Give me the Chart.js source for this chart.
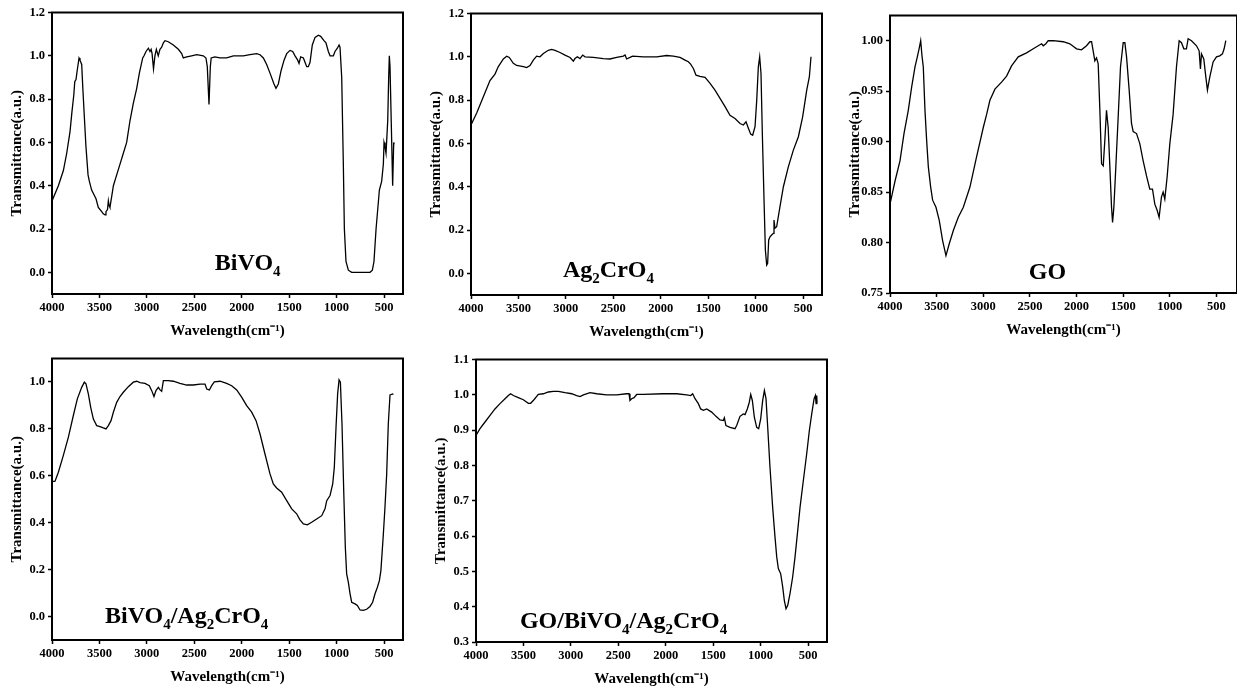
<!DOCTYPE html>
<html>
<head>
<meta charset="utf-8">
<script src="https://cdn.jsdelivr.net/npm/chart.js@4.4.1/dist/chart.umd.min.js"></script>
<style>
  body { margin: 0; background: #fff; width: 1237px; height: 693px; overflow: hidden; position: relative; }
  canvas { position: absolute; }
</style>
</head>
<body>
<script>
// FTIR spectra: wavenumber (cm-1) and transmittance (a.u.)
const bivo4Wave = [
  4000, 3933, 3880, 3845, 3810, 3790, 3770, 3760, 3747, 3735,
  3715, 3705, 3687, 3675, 3663, 3642, 3620, 3606, 3582, 3536,
  3512, 3476, 3459, 3441, 3431, 3415, 3406, 3399, 3389, 3371,
  3353, 3318, 3283, 3248, 3213, 3178, 3143, 3107, 3079, 3044,
  3030, 3009, 2984, 2967, 2955, 2945, 2930, 2915, 2900, 2880,
  2862, 2844, 2826, 2809, 2774, 2721, 2668, 2633, 2616, 2580,
  2528, 2475, 2405, 2377, 2363, 2345, 2331, 2322, 2283, 2229,
  2159, 2088, 1983, 1913, 1842, 1807, 1772, 1737, 1702, 1660,
  1639, 1614, 1586, 1554, 1526, 1491, 1463, 1438, 1410, 1396,
  1379, 1350, 1333, 1315, 1298, 1280, 1256, 1227, 1192, 1168,
  1133, 1112, 1087, 1069, 1034, 1017, 992, 974, 964, 946,
  929, 918, 901, 876, 841, 648, 623, 606, 584, 549,
  525, 507, 500, 490, 479, 461, 451, 444, 437, 419,
  409, 398, 395
];
const bivo4T = [
  0.33, 0.40, 0.47, 0.55, 0.65, 0.74, 0.82, 0.88, 0.89, 0.93,
  0.99, 0.98, 0.96, 0.85, 0.75, 0.58, 0.45, 0.42, 0.38, 0.34,
  0.30, 0.28, 0.27, 0.265, 0.28, 0.29, 0.33, 0.31, 0.30, 0.35,
  0.40, 0.45, 0.50, 0.55, 0.60, 0.70, 0.78, 0.85, 0.92, 0.99,
  1.00, 1.02, 1.035, 1.02, 1.03, 1.01, 0.94, 1.00, 1.03, 1.00,
  1.03, 1.04, 1.06, 1.07, 1.065, 1.05, 1.03, 1.01, 0.99, 0.995,
  1.00, 1.005, 1.00, 0.99, 0.95, 0.775, 0.95, 0.99, 0.995, 0.99,
  0.99, 1.00, 1.00, 1.005, 1.01, 1.005, 0.99, 0.96, 0.92, 0.87,
  0.85, 0.87, 0.93, 0.98, 1.01, 1.025, 1.02, 1.00, 0.98, 0.965,
  0.995, 0.99, 0.97, 0.95, 0.95, 0.97, 1.05, 1.085, 1.095, 1.09,
  1.07, 1.06, 1.02, 1.00, 1.00, 1.02, 1.035, 1.05, 1.04, 0.90,
  0.50, 0.20, 0.05, 0.01, 0.00, 0.00, 0.01, 0.05, 0.20, 0.38,
  0.42, 0.50, 0.60, 0.58, 0.55, 0.70, 0.90, 1.00, 0.95, 0.60,
  0.40, 0.60, 0.59
];

const ag2cro4Wave = [
  4000, 3940, 3870, 3800, 3747, 3712, 3659, 3624, 3596, 3554,
  3519, 3448, 3413, 3378, 3343, 3308, 3273, 3237, 3185, 3150,
  3114, 3062, 3009, 2956, 2921, 2904, 2879, 2851, 2823, 2798,
  2710, 2605, 2535, 2464, 2394, 2376, 2359, 2324, 2296, 2183,
  2043, 1937, 1867, 1797, 1744, 1709, 1685, 1656, 1628, 1586,
  1533, 1480, 1428, 1375, 1322, 1270, 1217, 1164, 1129, 1101,
  1076, 1052, 1031, 1006, 988, 971, 957, 943, 929, 911,
  897, 883, 873, 862, 848, 831, 813, 806, 796, 778,
  743, 707, 655, 602, 549, 504, 461, 433, 416
];
const ag2cro4T = [
  0.685, 0.74, 0.815, 0.89, 0.92, 0.955, 0.99, 1.003, 0.997, 0.97,
  0.96, 0.955, 0.95, 0.96, 0.985, 1.003, 1.00, 1.015, 1.03, 1.034,
  1.03, 1.02, 1.008, 0.997, 0.98, 0.992, 1.00, 0.992, 1.008, 1.00,
  0.997, 0.992, 0.99, 0.997, 1.003, 1.008, 0.99, 0.997, 1.003, 1.00,
  1.00, 1.006, 1.003, 0.997, 0.985, 0.977, 0.966, 0.946, 0.915, 0.91,
  0.905, 0.877, 0.846, 0.808, 0.77, 0.73, 0.715, 0.692, 0.685, 0.70,
  0.67, 0.643, 0.638, 0.677, 0.80, 0.954, 1.00, 0.923, 0.646, 0.338,
  0.108, 0.038, 0.046, 0.154, 0.169, 0.177, 0.185, 0.246, 0.208, 0.215,
  0.308, 0.40, 0.492, 0.569, 0.631, 0.723, 0.846, 0.908, 1.00
];

const goWave = [
  4000, 3946, 3893, 3850, 3804, 3768, 3732, 3707, 3686, 3671,
  3657, 3643, 3625, 3607, 3589, 3564, 3543, 3507, 3472, 3436,
  3400, 3364, 3321, 3268, 3214, 3143, 3072, 3000, 2964, 2929,
  2875, 2804, 2750, 2697, 2625, 2536, 2464, 2411, 2375, 2357,
  2329, 2304, 2250, 2143, 2072, 2000, 1947, 1893, 1857, 1839,
  1822, 1804, 1786, 1768, 1750, 1732, 1714, 1697, 1679, 1661,
  1643, 1625, 1614, 1600, 1579, 1554, 1529, 1500, 1482, 1464,
  1436, 1411, 1393, 1357, 1322, 1286, 1250, 1215, 1186, 1161,
  1136, 1115, 1090, 1072, 1054, 1029, 1000, 965, 929, 900,
  875, 850, 822, 804, 768, 714, 686, 672, 661, 636,
  614, 597, 572, 536, 500, 465, 436, 418, 400
];
const goT = [
  0.838, 0.861, 0.881, 0.908, 0.931, 0.954, 0.974, 0.984, 0.993, 1.00,
  0.985, 0.974, 0.931, 0.901, 0.875, 0.855, 0.842, 0.835, 0.822, 0.802,
  0.787, 0.799, 0.812, 0.825, 0.835, 0.855, 0.885, 0.914, 0.927, 0.941,
  0.952, 0.959, 0.965, 0.975, 0.984, 0.988, 0.992, 0.995, 0.997, 0.995,
  0.997, 1.00, 1.00, 0.999, 0.997, 0.992, 0.991, 0.995, 0.999, 0.999,
  0.99, 0.98, 0.983, 0.977, 0.931, 0.878, 0.876, 0.901, 0.931, 0.914,
  0.875, 0.835, 0.82, 0.835, 0.875, 0.924, 0.974, 0.998, 0.998, 0.984,
  0.951, 0.918, 0.91, 0.908, 0.898, 0.881, 0.866, 0.853, 0.853, 0.838,
  0.832, 0.825, 0.845, 0.85, 0.843, 0.865, 0.898, 0.927, 0.974, 1.00,
  0.998, 0.992, 0.992, 1.002, 1.00, 0.995, 0.99, 0.972, 0.987, 0.982,
  0.964, 0.951, 0.964, 0.979, 0.984, 0.985, 0.987, 0.992, 1.00
];

const bvAgWave = [
  4000, 3968, 3933, 3881, 3828, 3775, 3733, 3687, 3659, 3642,
  3617, 3592, 3564, 3529, 3494, 3459, 3431, 3406, 3378, 3353,
  3318, 3283, 3248, 3195, 3143, 3107, 3072, 3020, 2974, 2949,
  2925, 2904, 2879, 2861, 2844, 2826, 2774, 2721, 2651, 2580,
  2510, 2440, 2387, 2369, 2341, 2317, 2289, 2229, 2159, 2106,
  2053, 2001, 1948, 1895, 1849, 1807, 1755, 1702, 1667, 1632,
  1579, 1526, 1473, 1421, 1386, 1350, 1308, 1263, 1210, 1157,
  1122, 1104, 1069, 1041, 1024, 1006, 989, 974, 960, 943,
  925, 908, 894, 876, 858, 841, 806, 781, 753, 718,
  683, 648, 620, 595, 570, 549, 533, 507, 490, 472,
  455, 437, 409, 402
];
const bvAgT = [
  0.575, 0.577, 0.615, 0.686, 0.764, 0.857, 0.928, 0.977, 0.999, 0.992,
  0.949, 0.892, 0.842, 0.814, 0.81, 0.804, 0.80, 0.814, 0.835, 0.871,
  0.913, 0.938, 0.956, 0.98, 0.999, 1.003, 0.997, 0.994, 0.984, 0.963,
  0.938, 0.963, 0.977, 0.966, 0.96, 1.006, 1.006, 1.003, 0.994, 0.987,
  0.987, 0.991, 0.991, 0.97, 0.966, 0.984, 1.00, 1.003, 0.994, 0.984,
  0.966, 0.935, 0.899, 0.871, 0.835, 0.778, 0.693, 0.608, 0.565, 0.548,
  0.53, 0.494, 0.459, 0.438, 0.412, 0.395, 0.391, 0.402, 0.416, 0.43,
  0.459, 0.494, 0.516, 0.565, 0.636, 0.807, 0.949, 1.009, 0.999, 0.821,
  0.537, 0.295, 0.182, 0.146, 0.097, 0.061, 0.054, 0.047, 0.028, 0.026,
  0.031, 0.043, 0.061, 0.097, 0.125, 0.153, 0.196, 0.352, 0.466, 0.608,
  0.821, 0.945, 0.949, 0.946
];

const goBvAgWave = [
  4000, 3958, 3905, 3852, 3800, 3747, 3694, 3659, 3635, 3606,
  3554, 3501, 3448, 3424, 3389, 3343, 3290, 3237, 3185, 3132,
  3062, 2991, 2939, 2904, 2868, 2798, 2728, 2623, 2517, 2412,
  2387, 2377, 2359, 2334, 2306, 2236, 2025, 1885, 1779, 1737,
  1716, 1691, 1656, 1632, 1603, 1568, 1516, 1470, 1428, 1393,
  1382, 1365, 1322, 1270, 1252, 1217, 1182, 1164, 1140, 1119,
  1104, 1087, 1066, 1041, 1020, 999, 978, 960, 943, 925,
  901, 873, 848, 830, 813, 788, 767, 750, 732, 714,
  690, 662, 637, 612, 584, 549, 514, 486, 461, 436,
  422, 415, 408, 405
];
const goBvAgT = [
  0.885, 0.904, 0.923, 0.942, 0.96, 0.975, 0.989, 0.998, 1.003, 0.998,
  0.992, 0.986, 0.976, 0.976, 0.986, 1.001, 1.003, 1.008, 1.01, 1.01,
  1.006, 1.003, 0.998, 0.995, 1.00, 1.006, 1.003, 1.00, 1.00, 1.003,
  1.003, 0.984, 0.989, 0.992, 1.001, 1.001, 1.003, 1.003, 1.00, 0.998,
  1.003, 0.989, 0.975, 0.96, 0.956, 0.96, 0.951, 0.939, 0.929, 0.927,
  0.935, 0.913, 0.908, 0.904, 0.913, 0.939, 0.946, 0.944, 0.96, 0.979,
  1.001, 0.984, 0.937, 0.908, 0.904, 0.932, 0.984, 1.012, 0.989, 0.908,
  0.795, 0.682, 0.597, 0.541, 0.508, 0.493, 0.456, 0.418, 0.394, 0.404,
  0.437, 0.484, 0.541, 0.607, 0.682, 0.758, 0.833, 0.899, 0.946, 0.989,
  0.998, 0.975, 0.998, 0.975
];

// tick values
const waveTicks = [4000, 3500, 3000, 2500, 2000, 1500, 1000, 500];
const tTicks12 = [0, 0.2, 0.4, 0.6, 0.8, 1.0, 1.2];
const tTicks10 = [0, 0.2, 0.4, 0.6, 0.8, 1.0];
const goTicks = [0.75, 0.80, 0.85, 0.90, 0.95, 1.00];
const mixTicks = [0.3, 0.4, 0.5, 0.6, 0.7, 0.8, 0.9, 1.0, 1.1];

const family = '"Liberation Serif", "Times New Roman", serif';

// box = plot area [left, top, right, bottom] on the page, at = sample name position inside it
const panels = [
  { wave: bivo4Wave, t: bivo4T, name: 'BiVO_4', yMin: -0.1, yMax: 1.2, yTicks: tTicks12, dec: 1, xMin: 300,
    box: [52, 12, 403, 294], at: [0.464, 0.915] },
  { wave: ag2cro4Wave, t: ag2cro4T, name: 'Ag_2CrO_4', yMin: -0.1, yMax: 1.2, yTicks: tTicks12, dec: 1, xMin: 300,
    box: [471, 13, 822, 295], at: [0.262, 0.936] },
  { wave: goWave, t: goT, name: 'GO', yMin: 0.75, yMax: 1.025, yTicks: goTicks, dec: 2, xMin: 280,
    box: [890, 15, 1237, 293], at: [0.40, 0.95] },
  { wave: bvAgWave, t: bvAgT, name: 'BiVO_4/Ag_2CrO_4', yMin: -0.1, yMax: 1.1, yTicks: tTicks10, dec: 1, xMin: 300,
    box: [52, 358, 403, 640], at: [0.151, 0.94] },
  { wave: goBvAgWave, t: goBvAgT, name: 'GO/BiVO_4/Ag_2CrO_4', yMin: 0.3, yMax: 1.1, yTicks: mixTicks, dec: 1, xMin: 300,
    box: [476, 359, 827, 642], at: [0.125, 0.95] }
];

// "_4" -> subscript 4
function richText(ctx, str, x, y, size) {
  str.split(/(_\d)/).filter(s => s).forEach(p => {
    const sub = p[0] === '_';
    const txt = sub ? p.slice(1) : p;
    ctx.font = `bold ${sub ? Math.round(size * 0.64) : size}px ${family}`;
    ctx.fillText(txt, x, sub ? y + size * 0.24 : y);
    x += ctx.measureText(txt).width;
  });
}

const frameAndName = {
  id: 'frameAndName',
  afterDraw(chart, args, opts) {
    const { ctx, chartArea: a } = chart;
    ctx.save();
    ctx.strokeStyle = '#000';
    ctx.lineWidth = 2;
    ctx.strokeRect(a.left, a.top, a.right - a.left, a.bottom - a.top);
    ctx.fillStyle = '#000';
    ctx.textAlign = 'left';
    ctx.textBaseline = 'alphabetic';
    richText(ctx, opts.name, a.left + opts.at[0] * a.width, a.top + opts.at[1] * a.height, 24);
    ctx.restore();
  }
};

const padTop = 10, padRight = 4, yW = 52, xH = 47;
const tickFont = { family, size: 12.5, weight: 'bold' };
const titleFont = { family, size: 15, weight: 'bold' };

panels.forEach(p => {
  const [l, t, r, b] = p.box;
  const cv = document.createElement('canvas');
  cv.width = yW + (r - l) + padRight;
  cv.height = padTop + (b - t) + xH;
  cv.style.left = (l - yW) + 'px';
  cv.style.top = (t - padTop) + 'px';
  document.body.appendChild(cv);

  new Chart(cv, {
    type: 'line',
    data: {
      datasets: [{
        data: p.wave.map((w, i) => ({ x: w, y: p.t[i] })),
        borderColor: '#000',
        borderWidth: 1.3,
        pointRadius: 0,
        tension: 0,
        fill: false
      }]
    },
    options: {
      responsive: false,
      animation: false,
      devicePixelRatio: 1,
      layout: { padding: { top: padTop, right: padRight, left: 0, bottom: 0 } },
      plugins: {
        legend: { display: false },
        tooltip: { enabled: false },
        frameAndName: { name: p.name, at: p.at }
      },
      scales: {
        x: {
          type: 'linear',
          reverse: true,
          min: p.xMin,
          max: 4000,
          afterFit: s => { s.height = xH; },
          afterBuildTicks: s => { s.ticks = waveTicks.map(v => ({ value: v })); },
          grid: { drawOnChartArea: false, tickLength: 4, tickWidth: 1.5, tickColor: '#000' },
          border: { display: true, color: '#000', width: 2 },
          ticks: { color: '#000', font: tickFont, padding: 2, maxRotation: 0, autoSkip: false,
                   callback: v => String(v) },
          title: { display: true, text: 'Wavelength(cm⁻¹)', color: '#000',
                   font: titleFont, padding: { top: 0, bottom: 1 } }
        },
        y: {
          min: p.yMin,
          max: p.yMax,
          afterFit: s => { s.width = yW; },
          afterBuildTicks: s => { s.ticks = p.yTicks.map(v => ({ value: v })); },
          grid: { drawOnChartArea: false, tickLength: 4, tickWidth: 1.5, tickColor: '#000' },
          border: { display: true, color: '#000', width: 2 },
          ticks: { color: '#000', font: tickFont, padding: 3,
                   callback: v => v.toFixed(p.dec) },
          title: { display: true, text: 'Transmittance(a.u.)', color: '#000',
                   font: titleFont, padding: { top: 8, bottom: 0 } }
        }
      }
    },
    plugins: [frameAndName]
  });
});
</script>
</body>
</html>
